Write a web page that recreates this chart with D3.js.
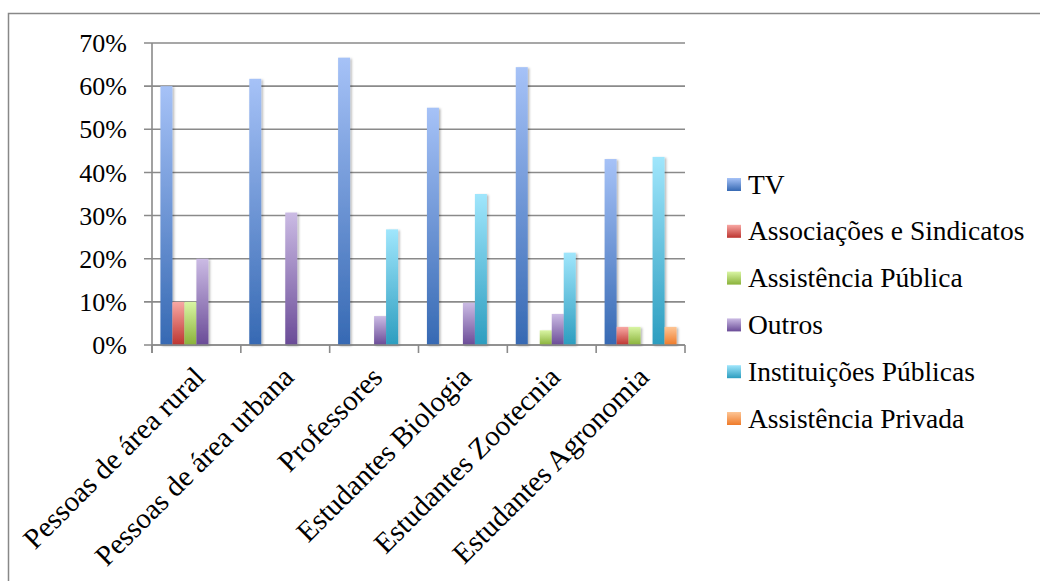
<!DOCTYPE html>
<html>
<head>
<meta charset="utf-8">
<script src="https://d3js.org/d3.v7.min.js"></script>
<style>
  body { margin: 0; background: #fff; }
</style>
</head>
<body>
<div id="chart"></div>
<script>
// categories and series
var categories = ["Pessoas de área rural", "Pessoas de área urbana", "Professores",
  "Estudantes Biologia", "Estudantes Zootecnia", "Estudantes Agronomia"];
var seriesNames = ["TV", "Associações e Sindicatos", "Assistência Pública", "Outros",
  "Instituições Públicas", "Assistência Privada"];

// values in %, one array per series
var tv          = [60, 61.7, 66.6, 55.0, 64.4, 43.1];
var associacoes = [10, 0, 0, 0, 0, 4.2];
var assistPub   = [10, 0, 0, 0, 3.4, 4.2];
var outros      = [20, 30.7, 6.7, 9.8, 7.2, 0];
var instPub     = [0, 0, 26.8, 35.0, 21.4, 43.6];
var assistPriv  = [0, 0, 0, 0, 0, 4.2];
var yTicks = [0, 10, 20, 30, 40, 50, 60, 70];

var seriesValues = [tv, associacoes, assistPub, outros, instPub, assistPriv];

// gradient colours per series [top, bottom]
var colors = [
  ["#a6c2f7", "#3669b3"],
  ["#f8a8a4", "#bd3530"],
  ["#d9f5a4", "#8ab23a"],
  ["#cbbbe4", "#6a4b97"],
  ["#a0e6fc", "#2c9dbf"],
  ["#fdc595", "#ef7b2a"]
];

var FONT = "'Liberation Serif', 'DejaVu Serif', serif";
var width = 1040, height = 581;
var margin = {top: 43, left: 152};
var plotW = 533, plotH = 302;

var svg = d3.select("#chart").append("svg")
  .attr("width", width).attr("height", height);

var defs = svg.append("defs");
colors.forEach(function(c, i) {
  var g = defs.append("linearGradient").attr("id", "grad" + i)
    .attr("x1", 0).attr("y1", 0).attr("x2", 0).attr("y2", 1);
  g.append("stop").attr("offset", "0%").attr("stop-color", c[0]);
  g.append("stop").attr("offset", "100%").attr("stop-color", c[1]);
});
var f = defs.append("filter").attr("id", "shadow")
  .attr("x", "-30%").attr("y", "-10%").attr("width", "160%").attr("height", "120%");
f.append("feDropShadow").attr("dx", 1.5).attr("dy", 1).attr("stdDeviation", 1.2)
  .attr("flood-color", "#000").attr("flood-opacity", 0.3);

// outer frame (right and bottom run off the picture)
svg.append("rect")
  .attr("x", 8.5).attr("y", 13.5).attr("width", 1100).attr("height", 700)
  .attr("fill", "none").attr("stroke", "#888").attr("stroke-width", 1.5);

var g = svg.append("g").attr("transform", "translate(" + margin.left + "," + margin.top + ")");

var x0 = d3.scaleBand().domain(categories).range([0, plotW]).paddingInner(0.19).paddingOuter(0.095);
var x1 = d3.scaleBand().domain(d3.range(seriesNames.length)).range([0, x0.bandwidth()]);
var y = d3.scaleLinear().domain([0, 70]).range([plotH, 0]);

// gridlines
g.selectAll(".grid").data(yTicks).enter().append("line")
  .attr("x1", -8).attr("x2", plotW)
  .attr("y1", function(d) { return y(d); }).attr("y2", function(d) { return y(d); })
  .attr("stroke", "#8a8a8a").attr("stroke-width", 1.6);

// y labels
g.selectAll(".ylab").data(yTicks).enter().append("text")
  .attr("x", -25).attr("y", function(d) { return y(d); })
  .attr("dy", "0.35em").attr("text-anchor", "end")
  .attr("font-family", FONT).attr("font-size", 26)
  .text(function(d) { return d + "%"; });

// bars
var groups = g.selectAll(".cat").data(categories).enter().append("g")
  .attr("transform", function(d) { return "translate(" + x0(d) + ",0)"; });
groups.each(function(cat, ci) {
  var sel = d3.select(this);
  seriesValues.forEach(function(vals, si) {
    if (!vals[ci]) return;
    sel.append("rect")
      .attr("x", x1(si)).attr("width", x1.bandwidth())
      .attr("y", y(vals[ci])).attr("height", plotH - y(vals[ci]))
      .attr("fill", "url(#grad" + si + ")")
      .attr("filter", "url(#shadow)");
  });
});

// axes lines
g.append("line").attr("x1", 0).attr("x2", 0).attr("y1", 0).attr("y2", plotH + 8)
  .attr("stroke", "#8a8a8a").attr("stroke-width", 1.6);
g.append("line").attr("x1", 0).attr("x2", plotW).attr("y1", plotH).attr("y2", plotH)
  .attr("stroke", "#8a8a8a").attr("stroke-width", 1.6);
var step = plotW / categories.length;
g.selectAll(".xtick").data(d3.range(categories.length + 1)).enter().append("line")
  .attr("x1", function(d) { return d * step; }).attr("x2", function(d) { return d * step; })
  .attr("y1", plotH).attr("y2", plotH + 8)
  .attr("stroke", "#8a8a8a").attr("stroke-width", 1.6);

// x labels, rotated
g.selectAll(".xlab").data(categories).enter().append("text")
  .attr("transform", function(d) {
    var cx = x0(d) + x0.bandwidth() / 2 + 10;
    return "translate(" + cx + "," + (plotH + 34) + ") rotate(-45)";
  })
  .attr("text-anchor", "end")
  .attr("font-family", FONT).attr("font-size", 29)
  .text(function(d) { return d; });

// legend
var legend = svg.append("g").attr("transform", "translate(727,184)");
seriesNames.forEach(function(name, i) {
  var row = legend.append("g").attr("transform", "translate(0," + (i * 46.8) + ")");
  row.append("rect").attr("x", 0).attr("y", -6).attr("width", 14).attr("height", 13)
    .attr("fill", "url(#grad" + i + ")");
  row.append("text").attr("x", 21).attr("y", 0).attr("dy", "0.35em")
    .attr("font-family", FONT).attr("font-size", 27.5).text(name);
});
</script>
</body>
</html>
